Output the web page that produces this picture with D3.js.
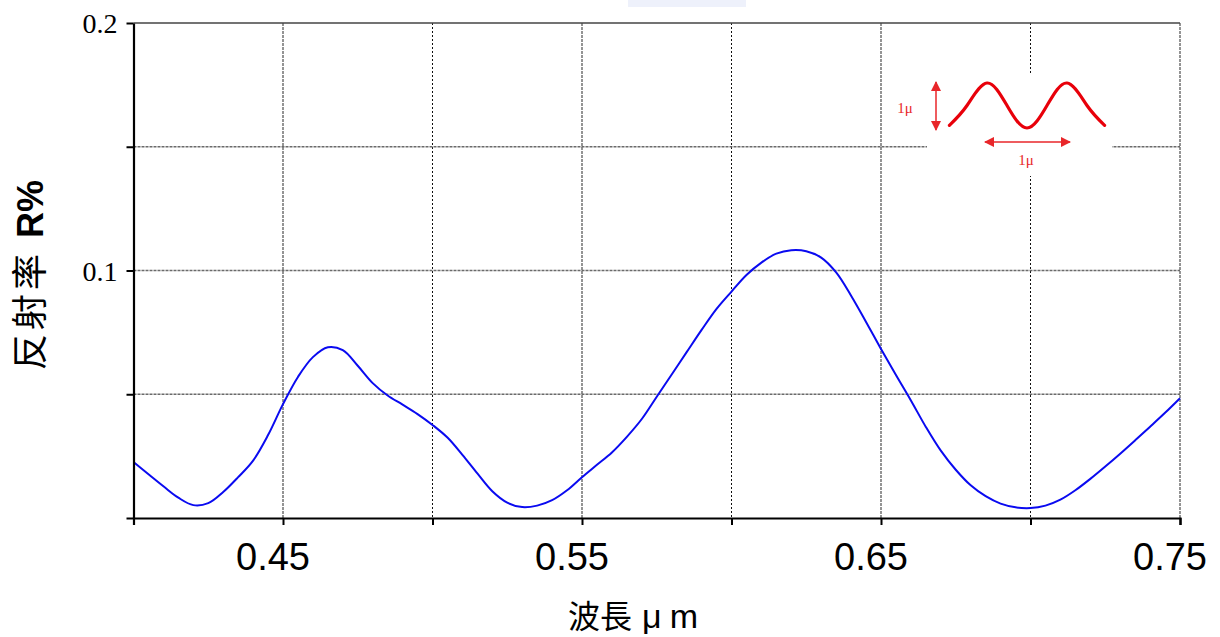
<!DOCTYPE html>
<html>
<head>
<meta charset="utf-8">
<script src="https://cdn.jsdelivr.net/npm/d3@7"></script>
<style>
  body { margin: 0; background: #fff; }
  svg { display: block; }
</style>
</head>
<body>
<svg id="chart" width="1220" height="637"></svg>
<script>

// reflectance spectrum
var wavelengths = [0.400,0.410,0.415,0.420,0.425,0.430,0.435,0.440,0.445,0.450,0.455,0.460,0.465,
                   0.470,0.475,0.480,0.485,0.490,0.495,0.500,0.505,0.510,0.515,0.520,0.525,
                   0.530,0.535,0.540,0.545,0.550,0.555,0.560,0.565,0.570,0.575,0.580,0.585,
                   0.590,0.595,0.600,0.605,0.610,0.615,0.620,0.625,0.630,0.635,0.640,0.645,
                   0.650,0.655,0.660,0.665,0.670,0.675,0.680,0.685,0.690,0.695,0.700,0.705,
                   0.710,0.715,0.720,0.725,0.730,0.735,0.740,0.745,0.750];
var reflectance = [0.0226,0.0128,0.0082,0.0052,0.0060,0.0105,0.0165,0.0232,0.0335,0.0460,0.0570,0.0650,0.0690,
                   0.0678,0.0615,0.0545,0.0495,0.0458,0.0420,0.0376,0.0325,0.0255,0.0180,0.0108,0.0062,
                   0.0044,0.0050,0.0072,0.0112,0.0165,0.0215,0.0265,0.0328,0.0400,0.0490,0.0580,0.0670,
                   0.0760,0.0845,0.0915,0.0982,0.1032,0.1068,0.1082,0.1078,0.1052,0.0992,0.0898,0.0792,
                   0.0683,0.0578,0.0475,0.0368,0.0272,0.0195,0.0132,0.0088,0.0058,0.0043,0.0040,0.0050,
                   0.0074,0.0112,0.0158,0.0208,0.0260,0.0314,0.0369,0.0425,0.0484];

var xTicks = [0.45,0.50,0.55,0.60,0.65,0.70,0.75];
var xLabels = [0.45,0.55,0.65,0.75];
var yTicks = [0,0.05,0.1,0.15,0.2];
var yLabels = [0.1,0.2];

// inset sketch of the surface profile, in microns
var insetX = [-0.47,-0.25,0,0.25,0.5,0.75,1.0,1.25,1.47];
var insetY = [0.06,0.5,1.0,0.5,0.0,0.5,1.0,0.5,0.06];

var margin = {top:23, left:133.5, right:40, bottom:119};
var width = 1220 - margin.left - margin.right;
var height = 637 - margin.top - margin.bottom;

var svg = d3.select('#chart');

// faint scanning artefact at the top edge
svg.append('rect')
	.attr('x',628).attr('y',0).attr('width',118).attr('height',7)
	.attr('fill','#eef1fb');

var g = svg.append('g')
	.attr('transform','translate('+margin.left+','+margin.top+')');

var x = d3.scaleLinear().domain([0.40,0.75]).range([0,width]);
var y = d3.scaleLinear().domain([0,0.2]).range([height,0]);

// grid
g.selectAll('.vgrid')
	.data(xTicks)
	.enter()
	.append('line')
	.attr('x1',function(d){ return x(d) })
	.attr('x2',function(d){ return x(d) })
	.attr('y1',0)
	.attr('y2',height)
	.attr('stroke',function(d){ return xLabels.indexOf(d) >= 0 ? '#7a7a7a' : '#111' })
	.attr('stroke-width',function(d){ return xLabels.indexOf(d) >= 0 ? 1.6 : 1 })
	.attr('stroke-dasharray',function(d){ return xLabels.indexOf(d) >= 0 ? '3,1' : '2,2' });

g.selectAll('.hgrid')
	.data(yTicks.filter(function(d){ return d > 0 && d < 0.2 }))
	.enter()
	.append('line')
	.attr('x1',0)
	.attr('x2',width)
	.attr('y1',function(d){ return y(d) })
	.attr('y2',function(d){ return y(d) })
	.attr('stroke','#6a6a6a')
	.attr('stroke-width',1.3)
	.attr('stroke-dasharray','3,1');

// top border
g.append('line')
	.attr('x1',0).attr('x2',width)
	.attr('y1',0).attr('y2',0)
	.attr('stroke','#444').attr('stroke-width',1.5);

// data line
var data = wavelengths.map(function(w,i){ return {w:w, r:reflectance[i]} });
var lineGen = d3.line()
	.x(function(d){ return x(d.w) })
	.y(function(d){ return y(d.r) })
	.curve(d3.curveCatmullRom.alpha(0.5));

g.append('path')
	.datum(data)
	.attr('d',lineGen)
	.attr('fill','none')
	.attr('stroke','#0a0af0')
	.attr('stroke-width',2);

// axes
var xAxis = g.append('g')
	.attr('transform','translate(0,'+height+')')
	.call(d3.axisBottom(x).tickValues(xTicks).tickSize(7).tickFormat(''));
xAxis.select('.domain').attr('stroke','#000').attr('stroke-width',2.2);
xAxis.selectAll('.tick line').attr('stroke','#000').attr('stroke-width',2);

var yAxis = g.append('g')
	.call(d3.axisLeft(y).tickValues(yTicks).tickSize(7).tickSizeOuter(0).tickFormat(''));
yAxis.select('.domain').attr('stroke','#000').attr('stroke-width',2.2);
yAxis.selectAll('.tick line').attr('stroke','#000').attr('stroke-width',2);

g.selectAll('.xlab')
	.data(xLabels)
	.enter()
	.append('text')
	.attr('x',function(d){ return x(d) - 10 })
	.attr('y',height + 52)
	.style('text-anchor','middle')
	.style('font-family','"Liberation Sans", Arial, sans-serif')
	.style('font-size','38px')
	.attr('fill','#000')
	.text(function(d){ return d3.format('.2f')(d) });

g.selectAll('.ylab')
	.data(yLabels)
	.enter()
	.append('text')
	.attr('x',-16)
	.attr('y',function(d){ return y(d) + 10 })
	.style('text-anchor','end')
	.style('font-family','"Liberation Serif", "Times New Roman", serif')
	.style('font-size','28px')
	.attr('fill','#000')
	.text(function(d){ return d3.format('.1f')(d) });

// axis titles
var yTitle = svg.append('text')
	.attr('transform','translate(43,275) rotate(-90)')
	.style('text-anchor','middle')
	.attr('fill','#000');
yTitle.append('tspan')
	.style('font-family','"Noto Sans CJK TC", sans-serif')
	.style('font-size','36px')
	.style('letter-spacing','4px')
	.text('反射率 ');
yTitle.append('tspan')
	.style('font-family','"Liberation Sans", Arial, sans-serif')
	.style('font-weight','bold')
	.style('font-size','36px')
	.text('R%');

var xTitle = svg.append('text')
	.attr('x',633)
	.attr('y',628)
	.style('text-anchor','middle')
	.attr('fill','#000');
xTitle.append('tspan')
	.style('font-family','"Noto Sans CJK TC", sans-serif')
	.style('font-size','32px')
	.text('波長');
xTitle.append('tspan')
	.attr('dx',10)
	.style('font-family','"Liberation Sans", Arial, sans-serif')
	.style('font-size','34px')
	.text('μ');
xTitle.append('tspan')
	.attr('dx',8)
	.style('font-family','"Liberation Sans", Arial, sans-serif')
	.style('font-size','34px')
	.text('m');

// inset: surface profile sketch
var inset = svg.append('g');
inset.append('rect')
	.attr('x',927).attr('y',75).attr('width',185).attr('height',101)
	.attr('fill','#fff');

var ix = d3.scaleLinear().domain([0,1]).range([987,1067]);
var iy = d3.scaleLinear().domain([0,1]).range([128,83]);

var defs = svg.append('defs');
defs.append('marker')
	.attr('id','arr')
	.attr('viewBox','0 0 10 10')
	.attr('refX',9).attr('refY',5)
	.attr('markerWidth',7).attr('markerHeight',7)
	.attr('orient','auto-start-reverse')
	.append('path')
	.attr('d','M0,0 L10,5 L0,10 z')
	.attr('fill','#e8262a');

var waveGen = d3.line()
	.x(function(d){ return ix(d[0]) })
	.y(function(d){ return iy(d[1]) })
	.curve(d3.curveNatural);

inset.append('path')
	.datum(insetX.map(function(v,i){ return [v, insetY[i]] }))
	.attr('d',waveGen)
	.attr('fill','none')
	.attr('stroke','#e8000a')
	.attr('stroke-width',3.2)
	.attr('stroke-linecap','round');

// vertical 1 micron arrow
inset.append('line')
	.attr('x1',936).attr('x2',936)
	.attr('y1',iy(1) - 1).attr('y2',iy(0) + 2)
	.attr('stroke','#e8262a').attr('stroke-width',1.5)
	.attr('marker-start','url(#arr)').attr('marker-end','url(#arr)');

// horizontal 1 micron arrow
inset.append('line')
	.attr('x1',ix(0) - 2).attr('x2',ix(1) + 3)
	.attr('y1',142).attr('y2',142)
	.attr('stroke','#e8262a').attr('stroke-width',1.5)
	.attr('marker-start','url(#arr)').attr('marker-end','url(#arr)');

inset.append('text')
	.attr('x',905).attr('y',113)
	.style('text-anchor','middle')
	.style('font-family','"Liberation Serif", serif')
	.style('font-size','15px')
	.attr('fill','#e8262a')
	.text('1μ');

inset.append('text')
	.attr('x',ix(0.5) - 1).attr('y',165)
	.style('text-anchor','middle')
	.style('font-family','"Liberation Serif", serif')
	.style('font-size','15px')
	.attr('fill','#e8262a')
	.text('1μ');

</script>
</body>
</html>
